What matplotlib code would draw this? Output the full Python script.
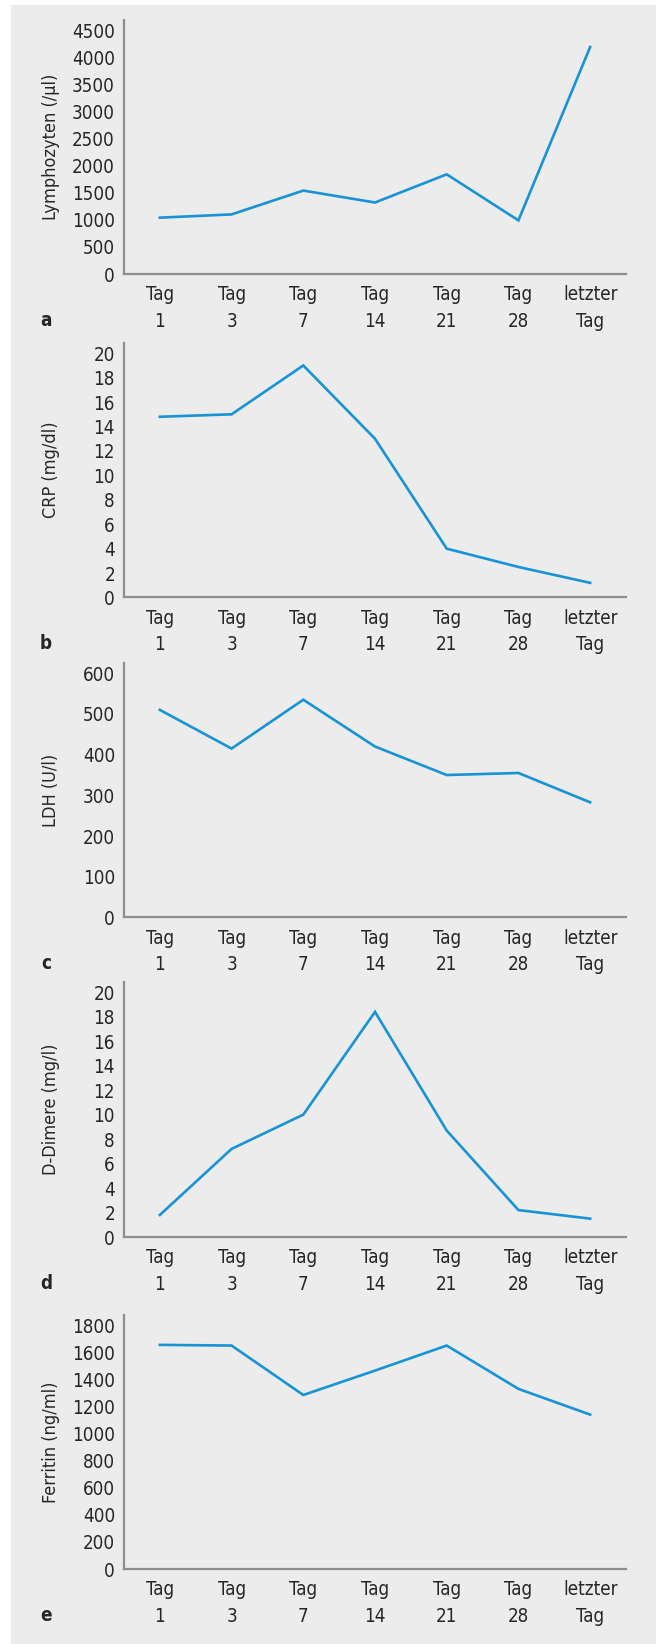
import matplotlib
matplotlib.use("Agg")
import matplotlib.pyplot as plt
from matplotlib.patches import Rectangle

# schmale Schrift wie im Original
plt.rcParams['font.family'] = ['DejaVu Sans']
plt.rcParams['font.stretch'] = 'condensed'

# Daten
tage = ['Tag\n1', 'Tag\n3', 'Tag\n7', 'Tag\n14', 'Tag\n21', 'Tag\n28', 'letzter\nTag']
lymphozyten = [1040, 1100, 1540, 1320, 1840, 990, 4190]
crp = [14.8, 15.0, 19.0, 13.0, 4.0, 2.5, 1.2]
ldh = [510, 415, 535, 420, 350, 355, 283]
d_dimere = [1.8, 7.2, 10.0, 18.4, 8.7, 2.2, 1.5]
ferritin = [1655, 1650, 1285, 1465, 1650, 1330, 1140]

panels = [
    ('a', 'Lymphozyten (/µl)', lymphozyten, 4500, 500),
    ('b', 'CRP (mg/dl)', crp, 20, 2),
    ('c', 'LDH (U/l)', ldh, 600, 100),
    ('d', 'D-Dimere (mg/l)', d_dimere, 20, 2),
    ('e', 'Ferritin (ng/ml)', ferritin, 1800, 200),
]

# Lage der Achsen in Pixeln (oberes Ende, Nulllinie)
W, H = 656, 1644
lagen = [(20, 274), (343, 597.5), (663, 917.5), (982, 1237), (1315, 1569)]
links, rechts = 124, 626

blau = '#1793d6'
grau = '#8e8e8e'
text = '#262626'

fig = plt.figure(figsize=(W / 100, H / 100), dpi=100)
fig.patches.append(Rectangle((11 / W, 0), 1 - 11 / W, 1 - 5 / H,
                             transform=fig.transFigure, color='#ebeceb', zorder=-10))

for (buchst, ylab, werte, ymax, schritt), (top, null) in zip(panels, lagen):
    ax = fig.add_axes([links / W, 1 - null / H, (rechts - links) / W, (null - top) / H])
    ax.set_facecolor('none')
    x = list(range(len(tage)))
    ax.plot(x, werte, color=blau, lw=1.9, solid_joinstyle='miter')
    ax.set_xlim(-0.5, len(tage) - 0.5)
    ax.set_ylim(0, ymax * 1.042)
    ticks = [i * schritt for i in range(int(round(ymax / schritt)) + 1)]
    ax.set_yticks(ticks)
    ax.set_yticklabels([f'{t:g}' for t in ticks])
    ax.set_xticks(x)
    ax.set_xticklabels(tage, linespacing=1.5)
    for s in ['top', 'right']:
        ax.spines[s].set_visible(False)
    for s in ['left', 'bottom']:
        ax.spines[s].set_color(grau)
        ax.spines[s].set_linewidth(1.6)
    ax.tick_params(length=0, labelsize=13.5, colors=text)
    ax.tick_params(axis='y', pad=6.5)
    ax.tick_params(axis='x', pad=8)
    ax.set_ylabel(ylab, fontsize=13, color=text, va='center')
    ax.yaxis.set_label_coords((51 - links) / (rechts - links), 0.5)
    fig.text(46 / W, 1 - (null + 46) / H, buchst, fontsize=13.5, fontweight='bold',
             color=text, ha='center', va='center')

fig.savefig('out.png', dpi=100)
